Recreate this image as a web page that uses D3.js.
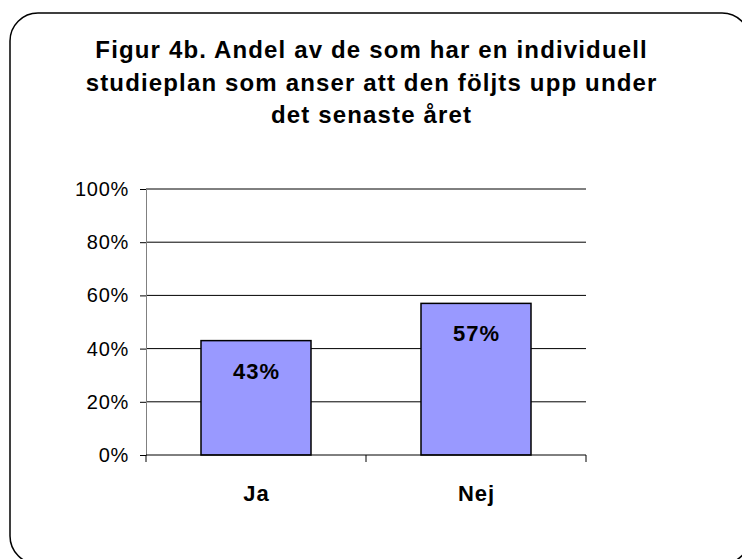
<!DOCTYPE html>
<html><head><meta charset="utf-8">
<script src="https://cdn.jsdelivr.net/npm/d3@7"></script>
<style>body{margin:0;background:#fff}svg{display:block}</style>
</head><body>
<script>
const categories = ["Ja", "Nej"];
const values = [0.43, 0.57];
const yTicks = [0, 0.2, 0.4, 0.6, 0.8, 1.0];
const titleLines = ["Figur 4b. Andel av de som har en individuell", "studieplan som anser att den följts upp under", "det senaste året"];

const W = 742, H = 559;
const svg = d3.select("body").append("svg").attr("width", W).attr("height", H);
const font = "'Liberation Sans', Arial, sans-serif";

svg.append("rect").attr("x", 10).attr("y", 13).attr("width", 740).attr("height", 551)
  .attr("rx", 28).attr("ry", 28).attr("fill", "#fff").attr("stroke", "#000").attr("stroke-width", 1.5);

svg.append("g").selectAll("text").data(titleLines).join("text")
  .attr("x", 371 + 0.6).attr("y", (d, i) => 58 + i * 32.5)
  .attr("text-anchor", "middle").attr("font-family", font).attr("font-weight", "bold")
  .attr("font-size", 24).attr("letter-spacing", 1.15).attr("fill", "#000").text(d => d);

const x0 = 146, x1 = 586, y0 = 455, y1 = 189;
const x = d3.scaleBand().domain(categories).range([x0, x1]).paddingInner(0.5).paddingOuter(0.25);
const y = d3.scaleLinear().domain([0, 1]).range([y0, y1]);

// gridlines
svg.append("g").selectAll("line").data(yTicks.filter(d => d > 0)).join("line")
  .attr("x1", x0).attr("x2", x1).attr("y1", d => y(d)).attr("y2", d => y(d))
  .attr("stroke", "#000").attr("stroke-width", 1);

// y axis
const yAxis = svg.append("g").attr("transform", `translate(${x0},0)`)
  .call(d3.axisLeft(y).tickValues(yTicks).tickFormat(d3.format(".0%")).tickSizeOuter(0).tickSize(6).tickPadding(11));
yAxis.select(".domain").attr("stroke", "#808080");
yAxis.selectAll("text").attr("font-family", font).attr("font-size", 20).attr("letter-spacing", 0.7).attr("fill", "#000");

// bars
svg.append("g").selectAll("rect").data(values).join("rect")
  .attr("x", (d, i) => x(categories[i])).attr("width", x.bandwidth())
  .attr("y", d => y(d)).attr("height", d => y0 - y(d))
  .attr("fill", "#9999FF").attr("stroke", "#000").attr("stroke-width", 1.5);

// value labels
svg.append("g").selectAll("text").data(values).join("text")
  .attr("x", (d, i) => x(categories[i]) + x.bandwidth() / 2 + 0.5)
  .attr("y", d => y(d) + 38)
  .attr("text-anchor", "middle").attr("font-family", font).attr("font-weight", "bold")
  .attr("font-size", 22).attr("letter-spacing", 1).attr("fill", "#000").text(d => d3.format(".0%")(d));

// x axis
const xAxisG = svg.append("g");
xAxisG.append("line").attr("x1", x0).attr("x2", x1).attr("y1", y0).attr("y2", y0).attr("stroke", "#000").attr("stroke-width", 1);
const tickXs = [x0].concat(categories.map(c => x(c) + x.bandwidth() / 2 + x.step() / 2));
xAxisG.selectAll("line.t").data(tickXs).join("line").attr("class", "t")
  .attr("x1", d => d).attr("x2", d => d).attr("y1", y0).attr("y2", y0 + 7).attr("stroke", "#000");
xAxisG.selectAll("text").data(categories).join("text")
  .attr("x", d => x(d) + x.bandwidth() / 2 + 0.5).attr("y", 501)
  .attr("text-anchor", "middle").attr("font-family", font).attr("font-weight", "bold")
  .attr("font-size", 22).attr("letter-spacing", 1).attr("fill", "#000").text(d => d);
</script>
</body></html>
